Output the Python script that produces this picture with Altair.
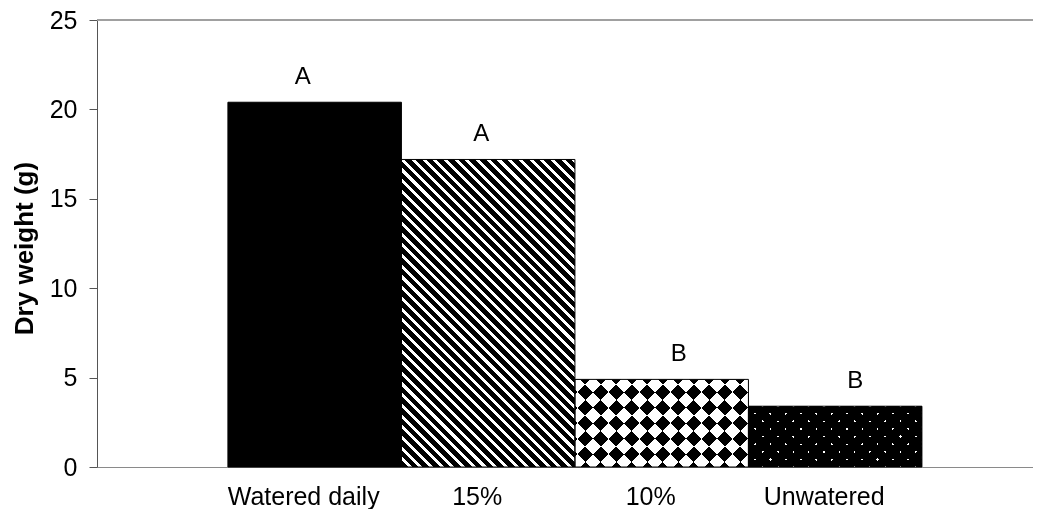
import altair as alt
import pandas as pd

# ---- data ----
treatments = ["Watered daily", "15%", "10%", "Unwatered"]
dry_weight = [20.4, 17.2, 4.9, 3.4]
letters = ["A", "A", "B", "B"]
y_ticks = [0, 5, 10, 15, 20, 25]

df = pd.DataFrame({"treatment": treatments, "dry": dry_weight, "letter": letters})

# ---- layout / style constants ----
FONT = "Liberation Sans"
PLOT_W, PLOT_H = 936, 447
Y_MAX = 25
PAD_OUT = 0.6974
ALIGN = 0.541
STEP = PLOT_W / (len(treatments) + 2 * PAD_OUT)
LETTER_DX = [-12, -7, 17, 20]


def stripes(w, h, period, frac1, c1, c2, direction):
    """Hard-stop linear gradient drawing 45-degree stripes on a w x h box."""
    length = w + h
    k = (w + h) / (w * w + h * h)
    stops = []
    pos = 0.0
    while pos < length:
        a = pos / length
        b = min((pos + frac1 * period) / length, 1.0)
        c = min((pos + period) / length, 1.0)
        stops += [
            {"offset": round(a, 6), "color": c1},
            {"offset": round(b, 6), "color": c1},
            {"offset": round(b, 6), "color": c2},
            {"offset": round(c, 6), "color": c2},
        ]
        pos += period
    if direction == "/":
        coords = dict(x1=0, y1=0, x2=k * w, y2=k * h)
    else:
        coords = dict(x1=0, y1=1, x2=k * w, y2=1 - k * h)
    return {"gradient": "linear", "stops": stops, **coords}


x_enc = alt.X(
    "treatment:N",
    sort=treatments,
    scale=alt.Scale(domain=treatments, paddingInner=0, paddingOuter=PAD_OUT, align=ALIGN),
    axis=alt.Axis(
        title=None,
        labelAngle=0,
        ticks=False,
        tickSize=0,
        labelPadding=17,
        labelOffset=-11,
        labelFont=FONT,
        labelFontSize=25,
        labelColor="black",
        domainColor="#8a8a8a",
        domainWidth=1.2,
        grid=False,
    ),
)
y_scale = alt.Scale(domain=[0, Y_MAX], nice=False, zero=True)
y_axis = alt.Axis(
    values=y_ticks,
    grid=False,
    tickSize=8,
    tickColor="#555555",
    domainColor="#555555",
    labelPadding=12,
    labelFont=FONT,
    labelFontSize=25,
    labelColor="black",
    title="Dry weight (g)",
    titleFont=FONT,
    titleFontSize=26,
    titleFontWeight="bold",
    titleColor="black",
    titleX=-65,
    titleY=228,
    titleAngle=270,
    titleAlign="center",
    titleBaseline="alphabetic",
)
y_enc = alt.Y("dry:Q", scale=y_scale, axis=y_axis)

base = alt.Chart(df)
layers = []

for i, t in enumerate(treatments):
    h = dry_weight[i] / Y_MAX * PLOT_H
    sub = base.transform_filter(alt.FieldEqualPredicate(field="treatment", equal=t))
    if i == 0:
        layers.append(sub.mark_bar(fill="black", strokeWidth=0).encode(x=x_enc, y=y_enc))
    elif i == 1:
        g = stripes(STEP, h, 10.7, 0.62, "black", "white", "\\")
        layers.append(sub.mark_bar(fill=g, strokeWidth=0).encode(x=x_enc, y=y_enc))
    elif i == 2:
        g1 = stripes(STEP, h, 31.0, 0.5, "black", "white", "/")
        g2 = stripes(STEP, h, 31.0, 0.5, "black", "white", "\\")
        layers.append(sub.mark_bar(fill=g1, strokeWidth=0).encode(x=x_enc, y=y_enc))
        layers.append(sub.mark_bar(fill=g2, strokeWidth=0, blend="difference").encode(x=x_enc, y=y_enc))
    else:
        g1 = stripes(STEP, h, 15.3, 0.85, "black", "white", "/")
        g2 = stripes(STEP, h, 15.3, 0.85, "black", "white", "\\")
        layers.append(sub.mark_bar(fill=g1, strokeWidth=0).encode(x=x_enc, y=y_enc))
        layers.append(sub.mark_bar(fill=g2, strokeWidth=0, blend="darken").encode(x=x_enc, y=y_enc))

# outlines
layers.append(
    base.mark_bar(fillOpacity=0, stroke="black", strokeWidth=1).encode(x=x_enc, y=y_enc)
)

# significance letters
for i, t in enumerate(treatments):
    sub = base.transform_filter(alt.FieldEqualPredicate(field="treatment", equal=t))
    layers.append(
        sub.mark_text(
            font=FONT, fontSize=24, color="black", baseline="alphabetic", align="center",
            dx=LETTER_DX[i], dy=-18,
        ).encode(x=x_enc, y=y_enc, text="letter:N")
    )

# top frame line
layers.append(
    base.mark_rule(color="#9a9a9a", strokeWidth=1.2).encode(
        y=alt.YDatum(Y_MAX, type="quantitative", scale=y_scale, axis=y_axis)
    )
)

chart = (
    alt.layer(*layers)
    .properties(
        width=PLOT_W,
        height=PLOT_H,
        autosize=alt.AutoSizeParams(type="none"),
        padding={"left": 89, "top": 12, "right": 0, "bottom": 42},
        background="white",
    )
    .configure_view(strokeWidth=0)
)

chart.save("out.html", embed_options={"renderer": "svg", "actions": False})
